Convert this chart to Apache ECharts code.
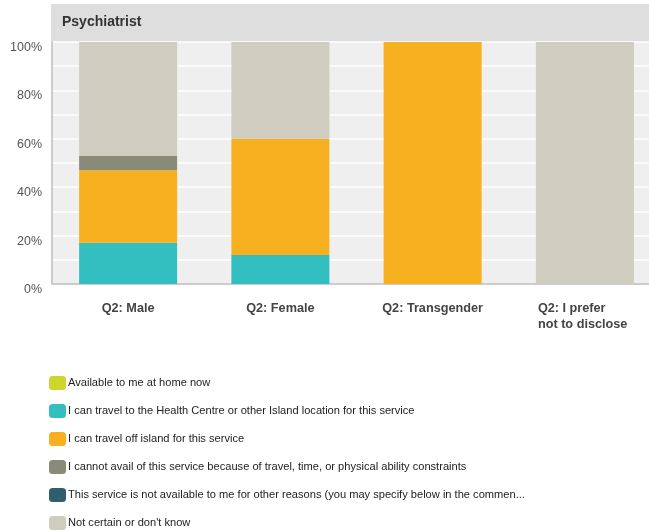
<!DOCTYPE html>
<html>
<head>
<meta charset="utf-8">
<script src="https://cdn.jsdelivr.net/npm/echarts@6/dist/echarts.min.js"></script>
<style>
  html, body { margin: 0; padding: 0; background: #fff; }
  #chart { width: 649px; height: 531px; }
</style>
</head>
<body>
<div id="chart"></div>
<script>
// categories and series values (percent)
const categories = ['Q2: Male', 'Q2: Female', 'Q2: Transgender', 'Q2: I prefer\nnot to disclose']
const seriesNames = [
  'Available to me at home now',
  'I can travel to the Health Centre or other Island location for this service',
  'I can travel off island for this service',
  'I cannot avail of this service because of travel, time, or physical ability constraints',
  'This service is not available to me for other reasons (you may specify below in the commen...',
  "Not certain or don't know"
]
const atHome = [0, 0, 0, 0]
const healthCentre = [17, 12, 0, 0]
const offIsland = [30, 48, 100, 0]
const cannotAvail = [6, 0, 0, 0]
const notAvailable = [0, 0, 0, 0]
const notCertain = [47, 40, 0, 100]
const colors = ['#cfd62b', '#33bec0', '#f7b01f', '#8a8a78', '#2f5f6f', '#cfcdbf']
const yTicks = [0, 20, 40, 60, 80, 100]

const chart = echarts.init(document.getElementById('chart'))

const values = [atHome, healthCentre, offIsland, cannotAvail, notAvailable, notCertain]

const option = {
  animation: false,
  color: colors,
  title: {
    text: 'Psychiatrist',
    left: 57,
    top: 10,
    textStyle: { fontFamily: 'Liberation Sans, Arial', fontSize: 14, fontWeight: 'bold', color: '#333' }
  },
  graphic: [
    {
      type: 'rect',
      z: -1,
      shape: { x: 51, y: 4, width: 598, height: 38 },
      style: { fill: '#dedede' }
    }
  ],
  grid: {
    left: 52,
    top: 42,
    right: -12,
    height: 242,
    outerBoundsMode: 'none',
    show: true,
    backgroundColor: '#efefef',
    borderWidth: 0
  },
  legend: {
    orient: 'vertical',
    left: 49,
    top: 376,
    padding: 0,
    itemWidth: 17,
    itemHeight: 14,
    itemGap: 14,
    icon: 'roundRect',
    selectedMode: false,
    data: seriesNames,
    textStyle: { fontFamily: 'Liberation Sans, Arial', fontSize: 11.1, color: '#222', padding: [0, 0, 0, -3] }
  },
  xAxis: {
    type: 'category',
    data: categories,
    axisLine: { show: true, lineStyle: { color: '#cccccc', width: 2 } },
    axisTick: { show: false },
    axisLabel: {
      margin: 16,
      fontFamily: 'Liberation Sans, Arial',
      fontSize: 12.7,
      fontWeight: 'bold',
      color: '#444',
      lineHeight: 16.5,
      formatter: function (v) {
        return v.indexOf('\n') >= 0 ? '{w|' + v + '}' : v
      },
      rich: {
        w: { width: 94, align: 'left', fontWeight: 'bold', fontSize: 12.7, color: '#444', lineHeight: 16.5, fontFamily: 'Liberation Sans, Arial' }
      }
    }
  },
  yAxis: {
    type: 'value',
    min: 0,
    max: 100,
    interval: 10,
    axisLine: { show: true, lineStyle: { color: '#cccccc', width: 2 } },
    axisTick: { show: false },
    splitLine: { show: true, lineStyle: { color: '#ffffff', width: 1.5 } },
    axisLabel: {
      margin: 10,
      verticalAlign: 'top',
      lineHeight: 11,
      fontFamily: 'Liberation Sans, Arial',
      fontSize: 12.5,
      color: '#555',
      formatter: function (v) {
        return yTicks.indexOf(v) >= 0 ? v + '%' : ''
      }
    }
  },
  series: seriesNames.map(function (name, i) {
    return {
      name: name,
      type: 'bar',
      stack: 'total',
      barWidth: 98,
      data: values[i],
      itemStyle: { color: colors[i] }
    }
  })
}

chart.setOption(option)
</script>
</body>
</html>
